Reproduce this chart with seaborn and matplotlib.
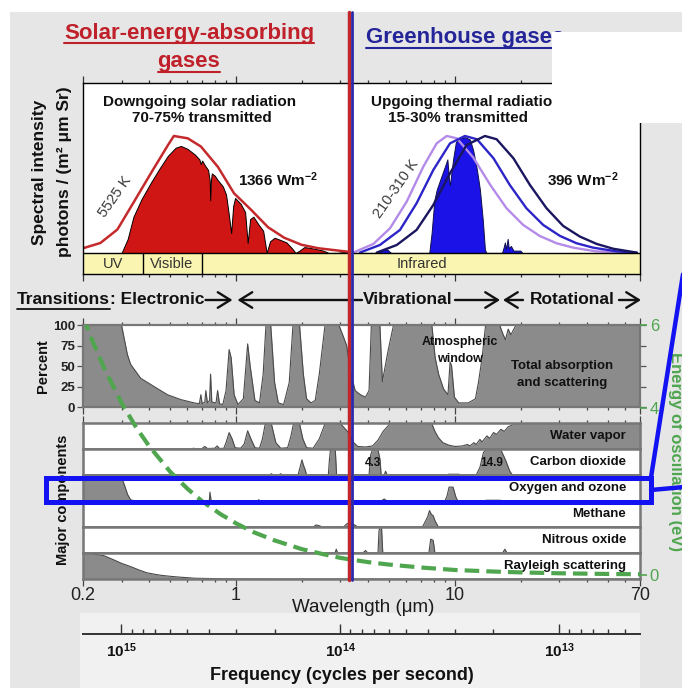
import numpy as np
import matplotlib
matplotlib.use("Agg")
import matplotlib.pyplot as plt
import seaborn as sns
from matplotlib.patches import Rectangle, FancyArrowPatch
from matplotlib.lines import Line2D
from matplotlib.ticker import FixedLocator, FixedFormatter, NullFormatter, LogLocator

# ---------------- data ----------------
wl_ticks = [0.2, 1, 10, 70]
wl_tick_labels = ['0.2', '1', '10', '70']
band_edges = [0.376, 0.70]          # UV | Visible | Infrared (um)
divider_wl = 3.35                   # solar / greenhouse divider (um)

freq_major = [1e15, 1e14, 1e13]
freq_major_labels = [r'$\mathbf{10^{15}}$', r'$\mathbf{10^{14}}$', r'$\mathbf{10^{13}}$']
freq_minor = [9e14, 8e14, 7e14, 6e14, 5e14, 4e14, 3e14, 2e14,
              9e13, 8e13, 7e13, 6e13, 5e13, 4e13, 3e13, 2e13,
              9e12, 8e12, 7e12, 6e12, 5e12]

# 5525 K solar curve (normalised spectral intensity)
solar_blackbody = [(0.20, 0.04), (0.240, 0.085), (0.287, 0.20), (0.340, 0.43), (0.408, 0.68),
                   (0.488, 0.92), (0.520, 1.0), (0.602, 0.98), (0.691, 0.91), (0.827, 0.735),
                   (0.979, 0.51), (1.17, 0.37), (1.40, 0.22), (1.66, 0.13), (1.99, 0.07),
                   (2.38, 0.04), (3.26, 0.01)]
# transmitted solar radiation (red fill)
solar_transmitted = [(0.300, 0), (0.320, 0.12), (0.340, 0.31), (0.370, 0.46), (0.408, 0.60),
                     (0.45, 0.73), (0.488, 0.83), (0.53, 0.90), (0.56, 0.915), (0.60, 0.89),
                     (0.65, 0.84), (0.68, 0.80), (0.69, 0.76), (0.70, 0.79), (0.72, 0.75),
                     (0.745, 0.71), (0.758, 0.62), (0.762, 0.45), (0.768, 0.62), (0.775, 0.68),
                     (0.80, 0.66), (0.827, 0.62), (0.87, 0.57), (0.90, 0.50), (0.925, 0.34),
                     (0.95, 0.17), (0.97, 0.40), (0.99, 0.47), (1.05, 0.42), (1.10, 0.35),
                     (1.13, 0.085), (1.16, 0.29), (1.20, 0.31), (1.27, 0.24), (1.33, 0.19),
                     (1.38, 0.0), (1.43, 0.10), (1.50, 0.13), (1.60, 0.11), (1.70, 0.09),
                     (1.80, 0.04), (1.87, 0.0), (1.95, 0.02), (2.05, 0.05), (2.15, 0.045),
                     (2.30, 0.035), (2.50, 0.02), (2.65, 0.0), (2.90, 0.0), (3.10, 0.008), (3.30, 0.0)]
# thermal emission curves (normalised)
thermal_warm = [(3.43, 0.003), (4.24, 0.077), (5.05, 0.211), (6.02, 0.439), (7.17, 0.738),
                (8.25, 0.937), (9.17, 1.0), (10.2, 0.98), (12.1, 0.818), (14.5, 0.581),
                (17.2, 0.382), (20.5, 0.239), (24.4, 0.145), (29.1, 0.083), (34.7, 0.045),
                (44.0, 0.014), (65.0, 0.0)]
thermal_mid = [(3.68, 0.003), (4.54, 0.068), (5.61, 0.197), (6.68, 0.425), (7.96, 0.709),
               (9.49, 0.937), (11.1, 1.0), (12.6, 0.972), (15.0, 0.809), (17.8, 0.581),
               (21.2, 0.382), (25.3, 0.239), (30.2, 0.145), (35.9, 0.083), (42.8, 0.045),
               (54.7, 0.014), (67.6, 0.003)]
thermal_cold = [(4.39, 0.003), (5.42, 0.068), (6.68, 0.197), (7.96, 0.410), (9.49, 0.681),
                (11.3, 0.923), (13.7, 1.0), (15.5, 0.972), (18.5, 0.809), (22.0, 0.581),
                (26.2, 0.382), (31.2, 0.231), (37.2, 0.140), (44.4, 0.077), (52.8, 0.036),
                (67.6, 0.003)]
# transmitted thermal radiation (blue fill)
thermal_transmitted = [(3.5, 0), (4.4, 0), (4.6, 0.02), (4.9, 0.03), (5.1, 0), (7.63, 0),
                       (7.82, 0.17), (8.05, 0.45), (8.25, 0.54), (8.54, 0.62), (9.0, 0.74),
                       (9.23, 0.80), (9.40, 0.62), (9.49, 0.58), (9.65, 0.70), (9.84, 0.82),
                       (10.1, 0.95), (10.6, 0.98), (11.1, 0.99), (11.7, 0.97), (12.1, 0.88),
                       (12.6, 0.71), (13.0, 0.54), (13.4, 0.28), (13.7, 0.03), (13.9, 0),
                       (16.4, 0), (16.7, 0.05), (16.9, 0.09), (17.1, 0.03), (17.4, 0.12),
                       (17.6, 0.04), (18.0, 0.06), (18.5, 0.02), (19.9, 0.02), (20.3, 0)]

# total absorption and scattering (percent)
total_absorption = [(0.20, 100), (0.30, 100), (0.305, 90), (0.319, 64), (0.33, 52), (0.367, 35),
                    (0.422, 25), (0.486, 15), (0.56, 9), (0.644, 5), (0.68, 4), (0.691, 15),
                    (0.70, 4), (0.72, 6), (0.728, 20), (0.74, 5), (0.757, 8), (0.765, 40),
                    (0.775, 6), (0.81, 5), (0.824, 20), (0.84, 4), (0.87, 3), (0.90, 20),
                    (0.93, 70), (0.95, 60), (0.98, 15), (1.02, 3), (1.08, 10), (1.13, 77),
                    (1.16, 50), (1.22, 8), (1.28, 5), (1.33, 40), (1.37, 100), (1.44, 100),
                    (1.50, 30), (1.56, 5), (1.65, 3), (1.75, 30), (1.82, 100), (1.95, 100),
                    (2.03, 40), (2.10, 10), (2.20, 5), (2.30, 8), (2.40, 40), (2.55, 100),
                    (2.95, 100), (3.10, 85), (3.20, 75), (3.35, 40), (3.50, 20), (3.70, 15),
                    (3.90, 12), (4.05, 20), (4.15, 100), (4.54, 100), (4.66, 31), (4.96, 70),
                    (5.24, 100), (7.84, 100), (8.12, 60), (8.42, 40), (8.87, 22), (9.29, 15),
                    (9.50, 55), (9.65, 50), (9.94, 12), (10.4, 5), (11.5, 5), (12.4, 10),
                    (12.8, 30), (13.3, 60), (13.8, 100), (16.0, 100), (16.5, 90), (17.0, 82),
                    (17.5, 95), (18.0, 88), (19.0, 100), (70.0, 100)]
water_vapor = [(0.20, 0), (0.62, 0), (0.64, 3), (0.66, 0), (0.70, 2), (0.72, 10), (0.74, 2),
               (0.80, 3), (0.82, 12), (0.84, 2), (0.88, 3), (0.90, 25), (0.93, 65), (0.96, 40),
               (0.99, 5), (1.05, 3), (1.09, 20), (1.13, 72), (1.17, 40), (1.22, 5), (1.28, 3),
               (1.32, 40), (1.36, 100), (1.45, 100), (1.52, 25), (1.60, 3), (1.72, 5), (1.78, 50),
               (1.83, 100), (1.95, 100), (2.02, 40), (2.10, 5), (2.25, 3), (2.40, 40), (2.55, 100),
               (3.00, 100), (3.15, 80), (3.30, 60), (3.45, 25), (3.60, 10), (3.90, 8), (4.20, 12),
               (4.45, 35), (4.70, 70), (5.05, 100), (7.84, 100), (8.10, 70), (8.40, 45), (8.80, 25),
               (9.40, 15), (10.0, 10), (10.8, 12), (11.4, 18), (11.7, 12), (12.2, 25), (12.5, 18),
               (13.0, 38), (13.3, 28), (14.0, 52), (14.4, 42), (15.0, 65), (15.5, 58), (16.2, 78),
               (16.8, 70), (17.5, 88), (18.9, 100), (70.0, 100)]
carbon_dioxide = [(0.20, 0), (1.42, 0), (1.45, 5), (1.48, 0), (1.57, 0), (1.60, 5), (1.63, 0),
                  (1.92, 0), (1.96, 30), (2.00, 60), (2.03, 40), (2.07, 20), (2.10, 0), (2.64, 0),
                  (2.67, 60), (2.70, 100), (2.84, 100), (2.88, 0), (4.05, 0), (4.12, 80),
                  (4.20, 100), (4.45, 100), (4.55, 60), (4.60, 0), (4.75, 0), (4.82, 15),
                  (4.90, 0), (9.2, 0), (9.35, 3), (10.4, 3), (10.6, 0), (12.5, 0), (13.0, 30),
                  (13.5, 90), (14.0, 100), (16.2, 100), (17.0, 60), (17.8, 15), (18.3, 0), (70.0, 0)]
oxygen_ozone = [(0.20, 100), (0.29, 100), (0.30, 95), (0.31, 60), (0.32, 25), (0.33, 5),
                (0.345, 0), (0.68, 0), (0.69, 5), (0.70, 0), (0.755, 0), (0.76, 35), (0.77, 0),
                (1.25, 0), (1.27, 5), (1.29, 0), (4.6, 0), (4.75, 8), (4.9, 0), (9.0, 0),
                (9.2, 20), (9.4, 55), (9.8, 55), (10.1, 15), (10.3, 0), (13.0, 0), (14.0, 3),
                (16.0, 3), (17.0, 0), (70.0, 0)]
methane = [(0.20, 0), (2.25, 0), (2.32, 8), (2.40, 5), (2.48, 0), (3.10, 0), (3.20, 12),
           (3.30, 18), (3.45, 10), (3.60, 0), (7.10, 0), (7.30, 20), (7.50, 40), (7.65, 65),
           (7.80, 50), (7.95, 45), (8.10, 25), (8.40, 0), (70.0, 0)]
nitrous_oxide = [(0.20, 0), (2.83, 0), (2.87, 15), (2.91, 0), (3.80, 0), (3.90, 10), (4.00, 0),
                 (4.45, 0), (4.50, 90), (4.55, 100), (4.62, 100), (4.68, 0), (7.60, 0),
                 (7.75, 55), (7.95, 50), (8.10, 0), (16.5, 0), (16.9, 15), (17.3, 0), (70.0, 0)]
rayleigh = [(0.20, 100), (0.22, 100), (0.25, 92), (0.276, 76), (0.30, 62), (0.33, 49),
            (0.36, 36), (0.39, 25), (0.43, 18), (0.46, 14), (0.51, 10), (0.56, 7), (0.65, 3),
            (0.80, 1.5), (0.94, 0.5), (1.5, 0), (70.0, 0)]
strip_names = ['Water vapor', 'Carbon dioxide', 'Oxygen and ozone', 'Methane',
               'Nitrous oxide', 'Rayleigh scattering']
strip_data = [water_vapor, carbon_dioxide, oxygen_ozone, methane, nitrous_oxide, rayleigh]

# energy of oscillation (eV)
energy_curve = [(0.2, 6.2), (0.22, 5.64), (0.25, 4.96), (0.3, 4.13), (0.35, 3.54), (0.4, 3.1),
                (0.5, 2.48), (0.6, 2.07), (0.7, 1.77), (0.85, 1.46), (1.0, 1.24), (1.2, 1.03),
                (1.5, 0.83), (2.0, 0.62), (2.5, 0.5), (3.0, 0.41), (4.0, 0.31), (5.0, 0.25),
                (7.0, 0.18), (10, 0.12), (15, 0.083), (20, 0.062), (30, 0.041), (50, 0.025),
                (70, 0.018)]
energy_ticks = [0, 4, 6]
percent_ticks = [0, 25, 50, 75, 100]

# ---------------- style ----------------
sns.set_theme(style="white")
plt.rcParams['font.family'] = ['Liberation Sans', 'DejaVu Sans']
plt.rcParams['mathtext.fontset'] = 'custom'
plt.rcParams['mathtext.rm'] = 'Liberation Sans'
plt.rcParams['mathtext.bf'] = 'Liberation Sans:bold'
plt.rcParams['mathtext.it'] = 'Liberation Sans:italic'

RED_T = '#c0202a'
BLUE_T = '#25259a'
GREEN = '#4fa64f'
GRAY_FILL = '#8b8b8b'
GRAY_EDGE = '#4a4a4a'
SPINE_G = '#777777'

W, H = 682, 688
fig = plt.figure(figsize=(W / 100, H / 100), dpi=100)
fig.patch.set_facecolor('white')


def fx(p):
    return p / W


def fy(p):
    return 1 - p / H


def box(x0, y0, x1, y1):
    return [fx(x0), fy(y1), (x1 - x0) / W, (y1 - y0) / H]


def T(x, y, s, size, weight='bold', color='#111111', ha='center', va='center', rot=0, **kw):
    return fig.text(fx(x), fy(y), s, fontsize=size, fontweight=weight, color=color,
                    ha=ha, va=va, rotation=rot, rotation_mode='anchor' if rot else 'default', **kw)


def unzip(pairs):
    return [p[0] for p in pairs], [p[1] for p in pairs]


def style_x(ax, top=False, bottom=False, labels=False, color='#444444'):
    ax.set_xscale('log')
    ax.set_xlim(0.2, 70)
    ax.xaxis.set_major_locator(FixedLocator(wl_ticks))
    ax.xaxis.set_major_formatter(FixedFormatter(wl_tick_labels))
    ax.xaxis.set_minor_locator(LogLocator(base=10, subs=np.arange(2, 10)))
    ax.xaxis.set_minor_formatter(NullFormatter())
    ax.tick_params(axis='x', which='both', direction='out', top=top, bottom=bottom,
                   labelbottom=labels, labeltop=False, color=color, width=0.9)
    ax.tick_params(axis='x', which='major', length=5, labelsize=13, labelcolor='#222222', pad=1)
    ax.tick_params(axis='x', which='minor', length=2.5)
    ax.set_xlabel('')
    ax.set_ylabel('')


# backgrounds
fig.add_artist(Rectangle((fx(10), 0), 1 - fx(10), fy(12), transform=fig.transFigure,
                         facecolor='#e6e6e6', edgecolor='none', zorder=-20))
fig.add_artist(Rectangle((fx(80), 0), fx(640) - fx(80), fy(613), transform=fig.transFigure,
                         facecolor='#f1f1f1', edgecolor='none', zorder=-19))

# ---------------- spectral panel ----------------
ax_s = fig.add_axes(box(83, 83, 640, 274))
ax_s.set_facecolor('white')
ax_s.axhspan(-0.18, 0, color='#faf6b2', zorder=0.5)
for e in band_edges:
    ax_s.plot([e, e], [-0.18, 0], color='black', lw=1.0, zorder=3)
ax_s.axhline(0, color='black', lw=1.0, zorder=3)

x, y = unzip(solar_transmitted)
ax_s.fill_between(x, 0, y, facecolor='#d01515', edgecolor='black', lw=0.7, zorder=1)
x, y = unzip(thermal_transmitted)
ax_s.fill_between(x, 0, y, facecolor='#1a12e6', edgecolor='#10104a', lw=0.7, zorder=1)

x, y = unzip(solar_blackbody)
sns.lineplot(x=x, y=y, ax=ax_s, color='#c42a2c', lw=1.8, estimator=None, sort=False, zorder=2)
for data, col in [(thermal_warm, '#b48be8'), (thermal_mid, '#2d25c8'), (thermal_cold, '#1b1660')]:
    x, y = unzip(data)
    sns.lineplot(x=x, y=y, ax=ax_s, color=col, lw=1.7, estimator=None, sort=False, zorder=2)

style_x(ax_s, top=True, bottom=True, labels=False, color='#333333')
ax_s.set_ylim(-0.18, 1.453)
ax_s.set_yticks([])
for sp in ax_s.spines.values():
    sp.set_color('black')
    sp.set_linewidth(1.0)

# ---------------- percent panel ----------------
ax_p = fig.add_axes(box(83, 325, 640, 407))
ax_p.set_facecolor('white')
x, y = unzip(total_absorption)
ax_p.fill_between(x, 0, y, color=GRAY_FILL, lw=0, zorder=1)
sns.lineplot(x=x, y=y, ax=ax_p, color=GRAY_EDGE, lw=0.8, estimator=None, sort=False, zorder=2)
style_x(ax_p, top=True, bottom=True, labels=False)
ax_p.set_ylim(0, 100)
ax_p.yaxis.set_major_locator(FixedLocator(percent_ticks))
ax_p.tick_params(axis='y', left=True, right=True, labelright=False, direction='out',
                 length=4, width=0.9, color='#555555', labelsize=9.5, pad=1.5)
for lab in ax_p.get_yticklabels():
    lab.set_fontweight('bold')
    lab.set_color('#222222')
for sp in ax_p.spines.values():
    sp.set_color(SPINE_G)
    sp.set_linewidth(1.6)

# ---------------- component strips ----------------
strip_axes = []
for k, (name, data) in enumerate(zip(strip_names, strip_data)):
    top = 423 + 26 * k
    ax = fig.add_axes(box(83, top, 640, top + 26))
    ax.set_facecolor('white')
    x, y = unzip(data)
    ax.fill_between(x, 0, y, color=GRAY_FILL, lw=0, zorder=1)
    sns.lineplot(x=x, y=y, ax=ax, color=GRAY_EDGE, lw=0.8, estimator=None, sort=False, zorder=2)
    style_x(ax, top=(k == 0), bottom=(k == 5), labels=(k == 5))
    ax.set_ylim(0, 103)
    ax.set_yticks([])
    for sp in ax.spines.values():
        sp.set_color(SPINE_G)
        sp.set_linewidth(1.8)
    strip_axes.append(ax)
    T(626, top + 13, name, 9.5, ha='right')

# ---------------- energy of oscillation overlay ----------------
ax_e = fig.add_axes(box(83, 325, 640, 579))
ax_e.set_zorder(5)
ax_e.patch.set_visible(False)
x, y = unzip(energy_curve)
sns.lineplot(x=x, y=y, ax=ax_e, color=GREEN, lw=3.0, estimator=None, sort=False)
ax_e.lines[-1].set_dashes((3.5, 1.7))
ax_e.set_xscale('log')
ax_e.set_xlim(0.2, 70)
ax_e.set_ylim(-0.096, 6)
for sp in ax_e.spines.values():
    sp.set_visible(False)
ax_e.set_xticks([])
ax_e.set_xticks([], minor=True)
ax_e.yaxis.set_major_locator(FixedLocator(energy_ticks))
ax_e.yaxis.set_major_formatter(FixedFormatter([str(v) for v in energy_ticks]))
ax_e.yaxis.set_minor_locator(FixedLocator([]))
ax_e.tick_params(axis='y', left=False, labelleft=False, right=True, labelright=True,
                 direction='out', length=5, width=1.2, color=GREEN, labelcolor=GREEN,
                 labelsize=12, pad=2)
ax_e.set_xlabel('')
ax_e.set_ylabel('')

# ---------------- frequency axis ----------------
ax_f = fig.add_axes(box(83, 613, 640, 634))
ax_f.patch.set_visible(False)
ax_f.set_xscale('log')
ax_f.set_xlim(0.2, 70)
ax_f.set_yticks([])
c_um = 2.998e14
ax_f.xaxis.set_major_locator(FixedLocator([c_um / f for f in freq_major]))
ax_f.xaxis.set_major_formatter(FixedFormatter(freq_major_labels))
ax_f.xaxis.set_minor_locator(FixedLocator([c_um / f for f in freq_minor]))
ax_f.xaxis.set_minor_formatter(NullFormatter())
for side in ['top', 'left', 'right']:
    ax_f.spines[side].set_visible(False)
ax_f.spines['bottom'].set_color('#333333')
ax_f.spines['bottom'].set_linewidth(1.4)
ax_f.tick_params(axis='x', which='both', direction='in', bottom=True, top=False,
                 color='#333333', width=1.0, labelsize=11, labelcolor='#111111')
ax_f.tick_params(axis='x', which='major', length=7, pad=5)
ax_f.tick_params(axis='x', which='minor', length=3.5)

# ---------------- annotations ----------------
tA = T(189, 33, 'Solar-energy-absorbing', 16, color=RED_T)
tB = T(189, 61, 'gases', 16, color=RED_T)
tC = T(366, 38, 'Greenhouse gases', 16, color=BLUE_T, ha='left')

T(200, 102, 'Downgoing solar radiation', 11)
T(202, 118, '70-75% transmitted', 11)
T(466, 102, 'Upgoing thermal radiation', 11)
T(458, 118, '15-30% transmitted', 11)
T(278, 180, r'1366 Wm$^{\mathbf{-2}}$', 11)
T(583, 180, r'396 Wm$^{\mathbf{-2}}$', 11)
T(115, 197, '5525 K', 10.5, weight='normal', color='#3a3a3a', rot=55)
T(396, 189, '210-310 K', 10.5, weight='normal', color='#3a3a3a', rot=55)
T(113, 264, 'UV', 10.5, weight='normal', color='#333333')
T(172, 264, 'Visible', 10.5, weight='normal', color='#333333')
T(422, 264, 'Infrared', 10.5, weight='normal', color='#333333')
T(40, 172, 'Spectral intensity', 12.5, rot=90)
T(64, 172, 'photons / (m² μm Sr)', 12.5, rot=90)

T(43, 366, 'Percent', 10.5, rot=90)
T(460, 342, 'Atmospheric', 9)
T(460, 359, 'window', 9)
T(562, 366, 'Total absorption', 9.5)
T(562, 383, 'and scattering', 9.5)
T(63, 500, 'Major components', 10.5, rot=90)
T(373, 463, '4.3', 8.5)
T(492, 463, '14.9', 8.5)
T(676, 452, 'Energy of oscillation (eV)', 12, color=GREEN, rot=-90)
T(363, 608, 'Wavelength (μm)', 13.5, weight='normal', color='#1a1a1a')
T(342, 675, 'Frequency (cycles per second)', 13)

R = fig.canvas.get_renderer()


def underline(t, ypx, color, lw=1.5):
    bb = t.get_window_extent(renderer=R)
    fig.add_artist(Line2D([bb.x0 / W, bb.x1 / W], [fy(ypx), fy(ypx)], transform=fig.transFigure,
                          color=color, lw=lw, zorder=4))


underline(tA, 43, RED_T)
underline(tB, 72, RED_T)
underline(tC, 48, BLUE_T)

t1 = T(17, 300, 'Transitions', 12.5, ha='left')
underline(t1, 309, '#111111', 1.3)
bb1 = t1.get_window_extent(renderer=R)
t2 = fig.text(bb1.x1 / W, fy(300), ': Electronic', fontsize=12.5, fontweight='bold',
              color='#111111', ha='left', va='center')
bb2 = t2.get_window_extent(renderer=R)
T(408, 300, 'Vibrational', 12.5)
T(572, 300, 'Rotational', 12.5)


def arrow(x0, x1, y=300):
    fig.add_artist(FancyArrowPatch((fx(x0), fy(y)), (fx(x1), fy(y)), transform=fig.transFigure,
                                   arrowstyle='->,head_length=0.45,head_width=0.28',
                                   mutation_scale=20, lw=1.7, color='#111111',
                                   shrinkA=0, shrinkB=0, zorder=4))


e_end = bb2.x1
arrow(e_end + 1, e_end + 28)
arrow(362, e_end + 33)
arrow(455, 500)
arrow(523, 503)
arrow(619, 641)

# divider line (red / blue) at the solar-greenhouse boundary
xd = ax_s.transData.transform((divider_wl, 0.5))[0] / W
fig.add_artist(Line2D([xd - 1.6 / W] * 2, [fy(580), fy(12)], transform=fig.transFigure,
                      color='#c0262c', lw=2.5, zorder=10))
fig.add_artist(Line2D([xd + 1.5 / W] * 2, [fy(580), fy(12)], transform=fig.transFigure,
                      color='#2b2ba8', lw=2.0, zorder=10))

# white cover box (top right)
fig.add_artist(Rectangle((fx(552), fy(123)), 1 - fx(552), (123 - 32) / H, transform=fig.transFigure,
                         facecolor='white', edgecolor='none', zorder=8))

# blue highlight box and connector
BLUE_BOX = '#1212f2'
fig.add_artist(Rectangle((fx(45.5), fy(501.5)), (651 - 45.5) / W, 24 / H, transform=fig.transFigure,
                         fill=False, edgecolor=BLUE_BOX, lw=3.6, zorder=9))
fig.add_artist(Line2D([fx(651), fx(684)], [fy(477.5), fy(268)], transform=fig.transFigure,
                      color=BLUE_BOX, lw=3.2, zorder=9))
fig.add_artist(Line2D([fx(651), fx(684)], [fy(490), fy(487)], transform=fig.transFigure,
                      color=BLUE_BOX, lw=3.2, zorder=9))

fig.savefig('out.png', dpi=100)
